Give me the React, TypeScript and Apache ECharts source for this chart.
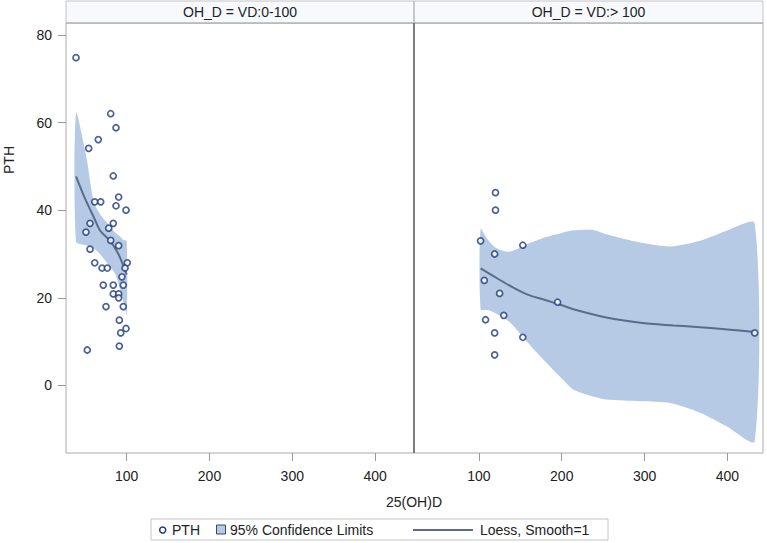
import React, { useEffect, useRef } from "react";
import * as echarts from "echarts";

const xTicks = [100, 200, 300, 400];
const yTicks = [0, 20, 40, 60, 80];
const panelTitles = ["OH_D = VD:0-100", "OH_D = VD:> 100"];
const xTitle = "25(OH)D";
const yTitle = "PTH";
const legendNames = ["PTH", "95% Confidence Limits", "Loess, Smooth=1"];

// Panel 1: VD 0-100
const lowX = [38.8, 80.7, 87.1, 65.7, 54.1, 83.8, 90.3, 61.4, 68.6, 87.1, 99.2, 55.7, 83.8, 50.8, 78.3, 80.7, 90.3, 55.7, 100.7, 61.4, 70.2, 76.6, 98, 94.3, 71.7, 83.8, 95.9, 83.8, 90.3, 90.3, 75, 95.9, 91.1, 99.2, 92.8, 91.1, 52.4];
const lowY = [74.8, 62, 58.8, 56.1, 54.1, 47.8, 43, 41.9, 41.9, 41, 40, 37, 37, 35, 35.9, 33.1, 31.9, 31.1, 28, 28, 26.8, 26.8, 26.8, 24.8, 22.9, 22.9, 22.9, 20.9, 20.9, 20, 18, 18, 14.9, 13, 12, 9, 8.1];
const lowFitX = [38.8, 50, 60, 68, 80, 90, 96, 100];
const lowFitY = [47.7, 42.5, 38.5, 35.3, 33, 30, 27.3, 25.3];
const lowBandX = [38.8, 51, 58, 62, 70, 76, 86, 92, 96, 100];
const lowBandHi = [62.2, 52.4, 44, 41, 38.5, 37.2, 34.9, 34, 33.2, 33];
const lowBandLo = [32.8, 32, 31.4, 31, 29.5, 28, 25.5, 22, 19, 16.2];

// Panel 2: VD > 100
const highX = [120, 120, 102, 153, 119, 106.5, 125, 195, 130, 108, 119, 153, 119, 433];
const highY = [44, 40, 33, 32, 30, 24, 21, 19, 16, 15, 12, 11, 7, 12];
const highFitX = [102, 117, 138, 158, 180, 200, 214, 254, 295, 335, 367, 400, 433];
const highFitY = [26.7, 25, 22.7, 20.8, 19.5, 18.3, 17.4, 15.5, 14.3, 13.7, 13.3, 12.8, 12.2];
const highBandX = [102, 110, 120, 137, 158, 180, 198, 214, 238, 254, 295, 331, 367, 399, 433];
const highBandHi = [35.7, 33.5, 31.5, 30.5, 32.2, 33.8, 34.7, 35.4, 35.5, 34.5, 32.6, 31.7, 33, 35.3, 37];
const highBandLo = [17.4, 17.2, 16.5, 14.5, 10, 5.5, 2, -0.9, -2.5, -3.2, -3.6, -4, -6.2, -9.3, -12.7];

const FONT = "'Liberation Sans', Arial, sans-serif";
const BAND = "#b6cae6";
const LINE = "#5a6c8c";
const PT = "#1d3a7c";

function zip(a: number[], b: number[]) {
  return a.map((v, i) => [v, b[i]]);
}

function bandSeries(idx: number, bx: number[], hi: number[], lo: number[]) {
  return {
    type: "custom",
    name: legendNames[1],
    xAxisIndex: idx,
    yAxisIndex: idx,
    silent: true,
    z: 1,
    data: [[bx[0], hi[0]]],
    renderItem: (_p: any, api: any) => {
      const pts: number[][] = [];
      for (let i = 0; i < bx.length; i++) pts.push(api.coord([bx[i], hi[i]]));
      for (let i = bx.length - 1; i >= 0; i--) pts.push(api.coord([bx[i], lo[i]]));
      return {
        type: "polygon",
        shape: { points: pts, smooth: 0.25 },
        style: { fill: BAND, stroke: "none" },
      };
    },
  };
}

function xAxis(idx: number, min: number, max: number) {
  return {
    type: "value",
    gridIndex: idx,
    min,
    max,
    position: "bottom",
    axisLine: { show: false, onZero: false },
    splitLine: { show: false },
    axisTick: { show: true, length: 8, lineStyle: { color: "#9a9a9a" }, customValues: xTicks },
    axisLabel: { customValues: xTicks, fontSize: 14, color: "#222", margin: 16, fontFamily: FONT },
  };
}

function yAxis(idx: number) {
  return {
    type: "value",
    gridIndex: idx,
    min: -15.4,
    max: 82.7,
    position: "left",
    axisLine: { show: false, onZero: false },
    splitLine: { show: false },
    axisTick: { show: idx === 0, length: 8, lineStyle: { color: "#9a9a9a" }, customValues: yTicks },
    axisLabel: { show: idx === 0, customValues: yTicks, fontSize: 14, color: "#222", margin: 14, fontFamily: FONT },
  };
}

export default function App() {
  const ref = useRef<HTMLDivElement>(null);
  useEffect(() => {
    if (!ref.current) return;
    const chart = echarts.init(ref.current, undefined, { renderer: "svg" });
    const scatterStyle = { color: "#ffffff", borderColor: PT, borderWidth: 1.7 };
    chart.setOption({
      animation: false,
      backgroundColor: "#ffffff",
      textStyle: { fontFamily: FONT },
      grid: [
        { left: 66, top: 23, width: 348, height: 430, show: true, borderColor: "#ababab", borderWidth: 1, backgroundColor: "transparent" },
        { left: 414, top: 23, width: 349, height: 430, show: true, borderColor: "#ababab", borderWidth: 1, backgroundColor: "transparent" },
      ],
      xAxis: [xAxis(0, 26.7, 447), xAxis(1, 21.6, 443)],
      yAxis: [yAxis(0), yAxis(1)],
      series: [
        bandSeries(0, lowBandX, lowBandHi, lowBandLo),
        bandSeries(1, highBandX, highBandHi, highBandLo),
        {
          type: "line", name: legendNames[2], xAxisIndex: 0, yAxisIndex: 0, z: 2,
          data: zip(lowFitX, lowFitY), smooth: 0.3, showSymbol: false,
          lineStyle: { color: LINE, width: 2 },
        },
        {
          type: "line", name: legendNames[2], xAxisIndex: 1, yAxisIndex: 1, z: 2,
          data: zip(highFitX, highFitY), smooth: 0.3, showSymbol: false,
          lineStyle: { color: LINE, width: 2 },
        },
        {
          type: "scatter", name: legendNames[0], xAxisIndex: 0, yAxisIndex: 0, z: 3,
          data: zip(lowX, lowY), symbol: "circle", symbolSize: 6, itemStyle: scatterStyle,
        },
        {
          type: "scatter", name: legendNames[0], xAxisIndex: 1, yAxisIndex: 1, z: 3,
          data: zip(highX, highY), symbol: "circle", symbolSize: 6, itemStyle: scatterStyle,
        },
      ],
      graphic: [
        { type: "rect", z: 10, shape: { x: 66, y: 1, width: 697, height: 22 }, style: { fill: "#f8f9fd", stroke: "#c4c4c4", lineWidth: 1 } },
        { type: "line", z: 11, shape: { x1: 414, y1: 1, x2: 414, y2: 23 }, style: { stroke: "#c8c8c8", lineWidth: 2 } },
        { type: "line", z: 11, shape: { x1: 66, y1: 23, x2: 763, y2: 23 }, style: { stroke: "#a8a8a8", lineWidth: 1 } },
        { type: "text", z: 12, x: 240, y: 12, style: { text: panelTitles[0], fill: "#222", font: `14px ${FONT}`, align: "center", verticalAlign: "middle" } },
        { type: "text", z: 12, x: 588.5, y: 12, style: { text: panelTitles[1], fill: "#222", font: `14px ${FONT}`, align: "center", verticalAlign: "middle" } },
        { type: "line", z: 11, shape: { x1: 414, y1: 23, x2: 414, y2: 453 }, style: { stroke: "#7c7c7c", lineWidth: 2 } },
        { type: "text", z: 12, x: 414, y: 502, style: { text: xTitle, fill: "#222", font: `14px ${FONT}`, align: "center", verticalAlign: "middle" } },
        { type: "text", z: 12, x: 9, y: 160, rotation: Math.PI / 2, style: { text: yTitle, fill: "#222", font: `14px ${FONT}`, align: "center", verticalAlign: "middle" } },
        // legend
        { type: "rect", z: 10, shape: { x: 151, y: 519, width: 457, height: 21 }, style: { fill: "#fff", stroke: "#c4c4c4", lineWidth: 1 } },
        { type: "circle", z: 12, shape: { cx: 162.7, cy: 530, r: 3 }, style: { fill: "#fff", stroke: PT, lineWidth: 1.5 } },
        { type: "text", z: 12, x: 172, y: 530, style: { text: legendNames[0], fill: "#222", font: `14px ${FONT}`, align: "left", verticalAlign: "middle" } },
        { type: "rect", z: 12, shape: { x: 216.5, y: 525, width: 9, height: 9 }, style: { fill: BAND, stroke: "#3c4760", lineWidth: 1 } },
        { type: "text", z: 12, x: 230, y: 530, style: { text: legendNames[1], fill: "#222", font: `14px ${FONT}`, align: "left", verticalAlign: "middle" } },
        { type: "line", z: 12, shape: { x1: 413, y1: 530, x2: 473, y2: 530 }, style: { stroke: LINE, lineWidth: 2 } },
        { type: "text", z: 12, x: 480, y: 530, style: { text: legendNames[2], fill: "#222", font: `14px ${FONT}`, align: "left", verticalAlign: "middle" } },
      ],
    });
    return () => chart.dispose();
  }, []);
  return <div ref={ref} style={{ position: "fixed", left: 0, top: 0, width: 767, height: 543 }} />;
}
